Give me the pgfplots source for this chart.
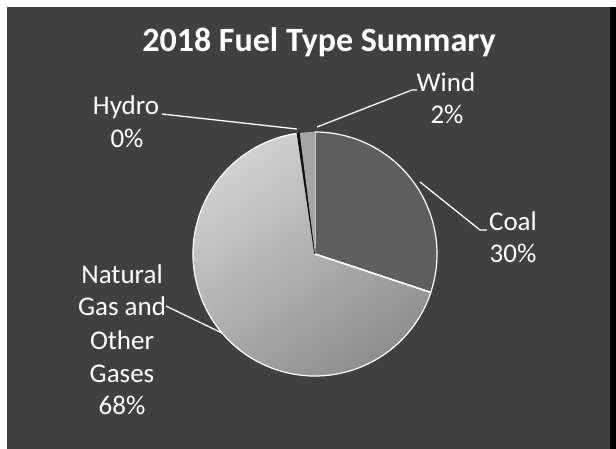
\documentclass[border=0pt]{standalone}
\usepackage{pgfplots}
\pgfplotsset{compat=1.18}
\usepackage{pgfplotstable}
\usepackage{fontspec}
\setmainfont{Carlito}
\definecolor{bgcol}{HTML}{404040}
\definecolor{coalcol}{HTML}{5E5E5E}
\definecolor{gastop}{HTML}{D2D2D2}
\definecolor{gasbot}{HTML}{8C8C8C}
\definecolor{windcol}{HTML}{A6A6A6}
\definecolor{hydrocol}{HTML}{111111}

\pgfplotstableread{
label value
Coal 30.1
Gas 67.6
Hydro 0.3
Wind 2.0
}\fueldata

\def\cx{315}\def\cy{194}\def\R{122}
\newcommand{\slice}[3]{% style, start, end
  \path[#1] (axis cs:\cx,\cy) -- (axis cs:{\cx+\R*cos(#2)},{\cy+\R*sin(#2)})
    arc[start angle=#2, end angle=#3, radius=\R pt] -- cycle;}
\newcommand{\lbl}[3]{\node[anchor=base, text=white, font=\fontsize{27}{33}\selectfont, inner sep=0pt] at (axis cs:#1,{448-#2}) {#3};}

\begin{document}%
\begin{tikzpicture}
\pgfplotstablegetelem{0}{value}\of\fueldata \pgfmathsetmacro\vCoal{\pgfplotsretval}
\pgfplotstablegetelem{1}{value}\of\fueldata \pgfmathsetmacro\vGas{\pgfplotsretval}
\pgfplotstablegetelem{2}{value}\of\fueldata \pgfmathsetmacro\vHydro{\pgfplotsretval}
\pgfplotstablegetelem{3}{value}\of\fueldata \pgfmathsetmacro\vWind{\pgfplotsretval}
\pgfmathsetmacro\aA{90}
\pgfmathsetmacro\aB{\aA-3.6*\vCoal}
\pgfmathsetmacro\aC{\aB-3.6*\vGas}
\pgfmathsetmacro\aD{\aC-3.6*\vHydro}
\pgfmathsetmacro\aE{\aD-3.6*\vWind}
\begin{axis}[
  x=1pt, y=1pt,
  xmin=0, xmax=616, ymin=0, ymax=448,
  hide axis, clip=false,
]
\fill[white] (axis cs:0,0) rectangle (axis cs:616,448);
\fill[bgcol] (axis cs:7,-6) rectangle (axis cs:622,441);
\fill[black] (axis cs:610,-6) rectangle (axis cs:622,441);
% pie shadow
\fill[black!75] (axis cs:{\cx+2},{\cy-2}) circle[radius=\R pt+3pt];
% slices
\slice{fill=coalcol, draw=white, line width=1.2pt}{\aA}{\aB}
\slice{top color=gastop, bottom color=gasbot, shading angle=35, draw=white, line width=1.2pt}{\aB}{\aC}
\slice{fill=hydrocol, draw=hydrocol, line width=1.5pt}{\aC}{\aD}
\slice{fill=windcol, draw=none}{\aD}{\aE}
\draw[white, line width=1.5pt] (axis cs:\cx,\cy) -- (axis cs:{\cx+\R*cos(\aB)},{\cy+\R*sin(\aB)});
% leader lines
\draw[white, line width=1.3pt] (axis cs:162,{448-114}) -- (axis cs:297,{448-129});
\draw[white, line width=1.3pt] (axis cs:317,{448-127}) -- (axis cs:412,{448-90}) -- (axis cs:417,{448-90});
\draw[white, line width=1.3pt] (axis cs:420,{448-182}) -- (axis cs:480,{448-230}) -- (axis cs:487,{448-230});
\draw[white, line width=1.3pt] (axis cs:166,{448-306}) -- (axis cs:222,{448-333});
% title
\node[anchor=base, text=white, font=\fontsize{34}{40}\selectfont\bfseries, inner sep=0pt] at (axis cs:319,{448-52}) {2018 Fuel Type Summary};
% labels
\lbl{126}{114}{Hydro}
\lbl{127}{147}{0\%}
\lbl{446}{92}{Wind}
\lbl{447}{123}{2\%}
\lbl{513}{230}{Coal}
\lbl{513}{262}{30\%}
\lbl{122}{283}{Natural}
\lbl{122}{315}{Gas and}
\lbl{122}{349}{Other}
\lbl{122}{382}{Gases}
\lbl{122}{414}{68\%}
\end{axis}
\pgfresetboundingbox
\path[use as bounding box] (current axis.south west) rectangle (current axis.north east);
\end{tikzpicture}%
\end{document}
